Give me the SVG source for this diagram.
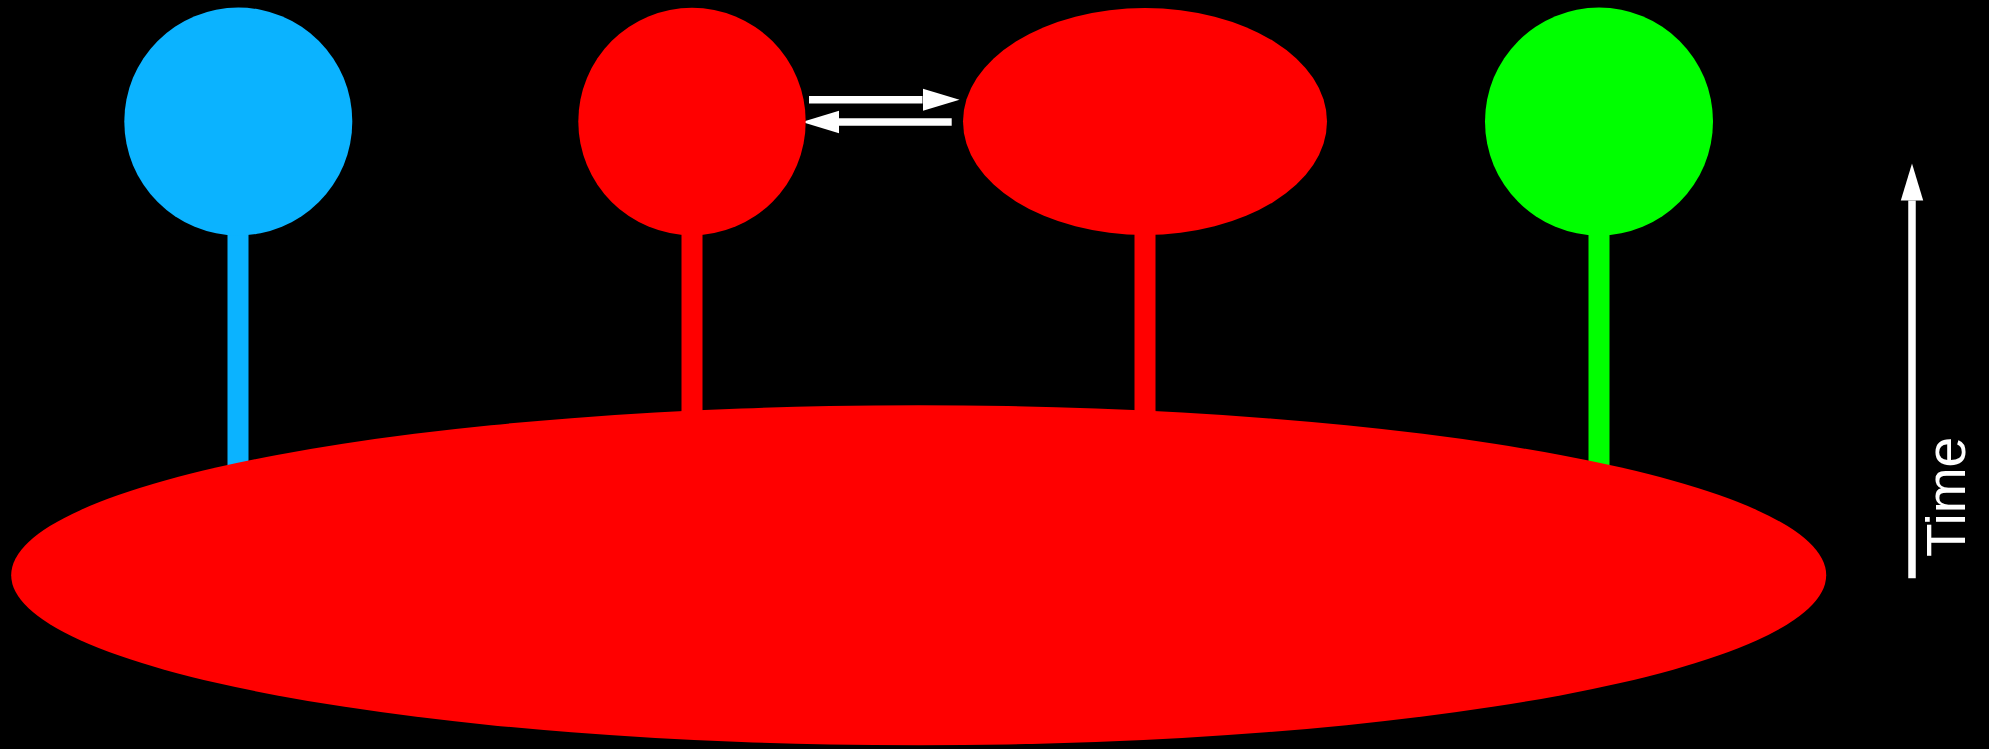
<svg xmlns="http://www.w3.org/2000/svg" width="1989" height="749" viewBox="0 0 1989 749">
  <defs>
    <style>
      .stem { stroke-width: 21; fill: none; }
      .arrow { stroke: #ffffff; stroke-width: 7.5; fill: none; marker-end: url(#head); }
      .label { font-family: "Liberation Sans", Arial, sans-serif; font-size: 55px; fill: #ffffff; }
    </style>
    <marker id="head" markerUnits="userSpaceOnUse" markerWidth="40" markerHeight="24" viewBox="0 -12 40 24" refX="0" refY="0" orient="auto">
      <path d="M0,-11.2 L37,0 L0,11.2 Z" fill="#ffffff"/>
    </marker>
  </defs>
  <rect width="1989" height="749" fill="#000000"/>

  <g id="connectors">
    <line class="stem" x1="238" y1="122" x2="238" y2="575" stroke="#0BB3FF"/>
    <line class="stem" x1="692" y1="122" x2="692" y2="575" stroke="#FF0000"/>
    <line class="stem" x1="1145" y1="122" x2="1145" y2="575" stroke="#FF0000"/>
    <line class="stem" x1="1599" y1="122" x2="1599" y2="575" stroke="#00FF00"/>
    <path class="arrow" d="M809,99.7 L922.5,99.7"/>
    <path class="arrow" d="M951.7,122 L839,122"/>
  </g>

  <g id="node-blue">
    <circle cx="238.3" cy="121.5" r="114" fill="#0BB3FF"/>
  </g>
  <g id="node-red-circle">
    <circle cx="692" cy="121.5" r="113.7" fill="#FF0000"/>
  </g>
  <g id="node-red-ellipse">
    <ellipse cx="1145" cy="121.5" rx="182" ry="113.5" fill="#FF0000"/>
  </g>
  <g id="node-green">
    <circle cx="1599" cy="121.5" r="114" fill="#00FF00"/>
  </g>
  <g id="node-base">
    <ellipse cx="918.7" cy="575.2" rx="907.5" ry="170" fill="#FF0000"/>
  </g>

  <g id="time-axis">
    <path class="arrow" d="M1912,578.3 L1912,200.5"/>
    <text class="label" transform="translate(1965,557) rotate(-90)">Time</text>
  </g>
</svg>
